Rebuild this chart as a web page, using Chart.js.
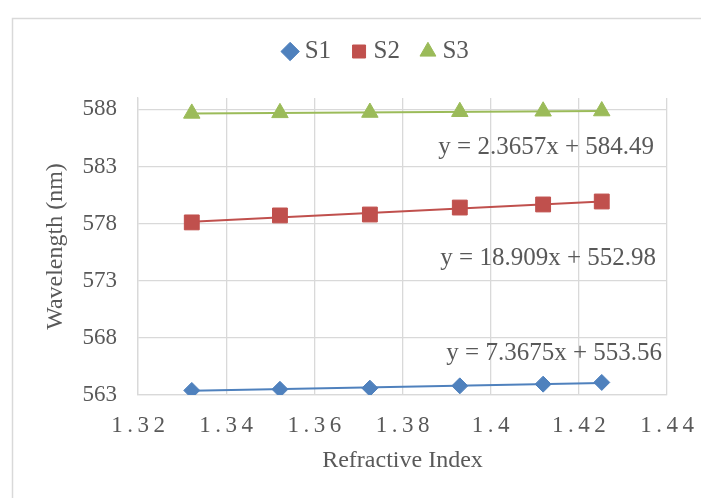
<!DOCTYPE html>
<html>
<head>
<meta charset="utf-8">
<script src="https://cdn.jsdelivr.net/npm/chart.js@4/dist/chart.umd.min.js"></script>
<style>
    html, body { margin: 0; padding: 0; overflow: hidden; background: #fff; }
    #wrap { position: relative; width: 720px; height: 498px; }
</style>
</head>
<body>
<div id="wrap"><canvas id="chart"></canvas></div>
<script>
/* ================= DATA ================= */
const seriesNames = ["S1", "S2", "S3"];
const refractiveIndex = [1.3322, 1.3522, 1.3726, 1.3930, 1.4119, 1.4252];
const s1 = [563.40, 563.50, 563.60, 563.80, 563.95, 564.10];
const s2 = [578.11, 578.72, 578.80, 579.41, 579.68, 579.94];
const s3 = [587.65, 587.70, 587.73, 587.80, 587.84, 587.86];
const slopes = [7.3675, 18.909, 2.3657];
const intercepts = [553.56, 552.98, 584.49];
const xTicks = [1.32, 1.34, 1.36, 1.38, 1.40, 1.42, 1.44];
const yTicks = [563, 568, 573, 578, 583, 588];

/* ================= STYLE ================= */
const colors = ["#4F81BD", "#C0504D", "#9BBB59"];
const pointStyles = ["rectRot", "rect", "triangle"];
const pointSizes = [8, 10.5, 9.5];
const textColor = "#595959";
const gridColor = "#d9d9d9";

Chart.defaults.font.family = "'Liberation Serif', 'Times New Roman', serif";
Chart.defaults.color = textColor;

const seriesValues = [s1, s2, s3];

const markerSets = seriesValues.map((vals, i) => ({
    label: seriesNames[i],
    data: refractiveIndex.map((x, j) => ({ x, y: vals[j] })),
    pointStyle: pointStyles[i],
    pointRadius: pointSizes[i],
    pointHoverRadius: pointSizes[i],
    backgroundColor: colors[i],
    borderColor: colors[i],
    borderWidth: 1,
    showLine: false
}));

// linear trendlines from the equations shown on the chart
const xFirst = refractiveIndex[0];
const xLast = refractiveIndex[refractiveIndex.length - 1];
const trendSets = slopes.map((m, i) => ({
    label: "trend " + seriesNames[i],
    data: [xFirst, xLast].map(x => ({ x, y: m * x + intercepts[i] })),
    borderColor: colors[i],
    backgroundColor: colors[i],
    borderWidth: 2,
    pointRadius: 0,
    pointHoverRadius: 0,
    showLine: true
}));

/* ================= PLUGINS ================= */
const frame = {
    id: "frame",
    beforeDraw(chart) {
        const ctx = chart.ctx;
        ctx.save();
        ctx.strokeStyle = gridColor;
        ctx.lineWidth = 1.5;
        ctx.strokeRect(12.5, 18.5, chart.width + 20, chart.height + 20);
        ctx.restore();
    }
};

// more room between legend and plot area
const legendGap = {
    id: "legendGap",
    beforeLayout(chart) {
        const lg = chart.legend;
        if (!lg || lg._gap) return;
        const fit = lg.fit;
        lg.fit = function () {
            fit.call(this);
            this.height += 24;
        };
        lg._gap = true;
    }
};

// wider letter spacing on the x tick labels, as in the original
const spacedTicks = {
    id: "spacedTicks",
    afterLayout(chart) {
        const sc = chart.scales.x;
        if (sc._spaced) return;
        const orig = sc.drawLabels;
        sc.drawLabels = function (area) {
            this.ctx.save();
            this.ctx.letterSpacing = "4.5px";
            this.ctx.translate(2.25, 0);
            orig.call(this, area);
            this.ctx.restore();
        };
        sc._spaced = true;
    }
};

const equations = {
    id: "equations",
    afterDatasetsDraw(chart, args, opts) {
        const { ctx, chartArea, scales } = chart;
        ctx.save();
        ctx.font = "25px 'Liberation Serif', 'Times New Roman', serif";
        ctx.fillStyle = textColor;
        ctx.textAlign = "right";
        ctx.textBaseline = "middle";
        opts.items.forEach(it => {
            const txt = `y = ${slopes[it.series]}x + ${intercepts[it.series]}`;
            ctx.fillText(txt, chartArea.right - it.dx, scales.y.getPixelForValue(it.at));
        });
        ctx.restore();
    }
};

/* ================= CHART ================= */
new Chart(document.getElementById("chart"), {
    type: "scatter",
    data: { datasets: [...markerSets, ...trendSets] },
    options: {
        responsive: true,
        maintainAspectRatio: false,
        animation: false,
        layout: { padding: { top: 13, left: 37, right: 0, bottom: 19 } },
        plugins: {
            tooltip: { enabled: false },
            legend: {
                position: "top",
                labels: {
                    usePointStyle: true,
                    boxWidth: 4,
                    boxHeight: 13,
                    padding: 26,
                    color: textColor,
                    font: { size: 25 },
                    filter: item => item.datasetIndex < 3
                }
            },
            equations: {
                items: [
                    { series: 2, at: 584.7, dx: 13 },
                    { series: 1, at: 574.97, dx: 11 },
                    { series: 0, at: 566.67, dx: 5 }
                ]
            }
        },
        scales: {
            x: {
                type: "linear",
                min: 1.32,
                max: 1.44,
                afterBuildTicks: axis => { axis.ticks = xTicks.map(v => ({ value: v })); },
                afterFit: axis => { axis.height = 84; axis.paddingRight = 53; },
                grid: { color: gridColor, lineWidth: 1.3, drawTicks: false },
                border: { color: gridColor, width: 1.3 },
                ticks: {
                    autoSkip: false,
                    maxRotation: 0,
                    padding: 17,
                    font: { size: 23 },
                    callback: v => String(+v.toFixed(2))
                },
                title: { display: true, text: "Refractive Index", font: { size: 24 }, color: textColor }
            },
            y: {
                min: 563,
                max: 589,
                afterBuildTicks: axis => { axis.ticks = yTicks.map(v => ({ value: v })); },
                afterFit: axis => { axis.width = 101; },
                grid: { color: gridColor, lineWidth: 1.3, drawTicks: false },
                border: { color: gridColor, width: 1.3 },
                ticks: { padding: 21, font: { size: 23 } },
                title: { display: true, text: "Wavelength (nm)", font: { size: 24 }, color: textColor }
            }
        }
    },
    plugins: [frame, legendGap, spacedTicks, equations]
});
</script>
</body>
</html>
